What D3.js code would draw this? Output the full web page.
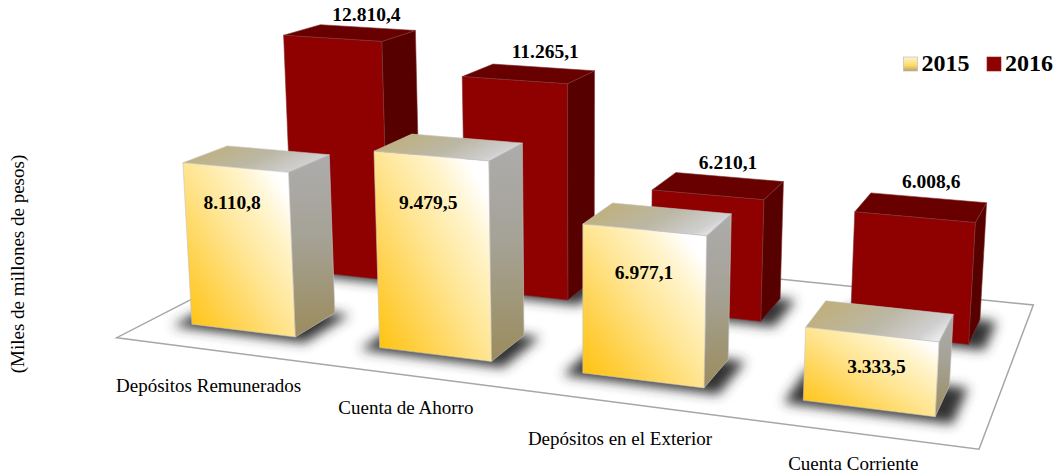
<!DOCTYPE html>
<html>
<head>
    <meta charset="utf-8">
    <title>Depósitos 2015-2016</title>
    <script src="https://d3js.org/d3.v7.min.js"></script>
    <style>
        body { margin: 0; background: #fff; }
        svg { display: block; }
        text { font-family: "Liberation Serif", "Times New Roman", serif; fill: #000; }
        .value { font-size: 19.5px; font-weight: bold; text-anchor: middle; }
        .category { font-size: 19px; text-anchor: middle; }
        .legend-label { font-size: 24px; font-weight: bold; }
    </style>
</head>
<body>
    <div id="chart"></div>
    <script>
        const categories = ["Depósitos Remunerados", "Cuenta de Ahorro", "Depósitos en el Exterior", "Cuenta Corriente"];
        const years = ["2015", "2016"];
        const values2015 = [8110.8, 9479.5, 6977.1, 3333.5];
        const values2016 = [12810.4, 11265.1, 6210.1, 6008.6];
        const labels2015 = ["8.110,8", "9.479,5", "6.977,1", "3.333,5"];
        const labels2016 = ["12.810,4", "11.265,1", "6.210,1", "6.008,6"];

        const width = 1055, height = 473;

        // floor quad on screen: front-left, front-right, back-right, back-left
        const floor = [[116.7, 337.7], [979, 449.3], [1033.3, 305], [322.1, 232.1]];
        // columns converge towards this point far below the picture
        const vanish = [582, 7300];

        const u = d3.scaleBand().domain(categories).range([0, 1]).paddingInner(0.44).paddingOuter(0.22);
        const w = d3.scaleBand().domain(years).range([0, 0.98]).paddingInner(0.6).paddingOuter(0.3);
        const h = d3.scaleLinear().domain([0, 14000]).range([0, -0.04]);

        // unit square -> floor quad
        const [[x0, y0], [x1, y1], [x2, y2], [x3, y3]] = floor;
        const sx = x0 - x1 + x2 - x3, sy = y0 - y1 + y2 - y3;
        const dx1 = x1 - x2, dx2 = x3 - x2, dy1 = y1 - y2, dy2 = y3 - y2;
        const den = dx1 * dy2 - dx2 * dy1;
        const g3 = (sx * dy2 - dx2 * sy) / den;
        const h3 = (dx1 * sy - sx * dy1) / den;
        const a = x1 - x0 + g3 * x1, b = x3 - x0 + h3 * x3;
        const d = y1 - y0 + g3 * y1, e = y3 - y0 + h3 * y3;

        // fu, fw in 0..1 on the floor, t is the height coming out of the h scale
        function project(fu, fw, t) {
            const k = g3 * fu + h3 * fw + 1 + (t || 0);
            return [
                (a * fu + b * fw + x0 + (t || 0) * vanish[0]) / k,
                (d * fu + e * fw + y0 + (t || 0) * vanish[1]) / k
            ];
        }

        const svg = d3.select("#chart").append("svg")
            .attr("width", width)
            .attr("height", height);

        const defs = svg.append("defs");

        function gradient(id, pos, stops) {
            const lg = defs.append("linearGradient").attr("id", id)
                .attr("x1", pos[0]).attr("y1", pos[1]).attr("x2", pos[2]).attr("y2", pos[3]);
            stops.forEach(s => lg.append("stop").attr("offset", s[0]).attr("stop-color", s[1]));
        }

        gradient("yFront", [0, 1, 1, 0], [[0, "#ffc000"], [0.22, "#ffcf42"], [0.5, "#ffe592"], [0.72, "#fff3c8"], [0.88, "#ffffff"], [1, "#ffffff"]]);
        gradient("ySide", [0, 0, 0, 1], [[0, "#acacac"], [0.45, "#a5a296"], [1, "#9b8c5c"]]);
        gradient("yTop", [0, 0.3, 1, 0.7], [[0, "#c0af78"], [0.5, "#bbb7a4"], [0.85, "#cfcfcf"], [1, "#ececec"]]);
        gradient("yLegend", [0, 0, 0, 1], [[0, "#fff4cc"], [0.6, "#ffd968"], [1, "#b7a468"]]);

        const blur = defs.append("filter").attr("id", "soft")
            .attr("x", "-40%").attr("y", "-60%").attr("width", "180%").attr("height", "220%");
        blur.append("feGaussianBlur").attr("stdDeviation", 6);

        const poly = d3.line();
        const quad = pts => poly(pts) + "Z";

        // Floor
        svg.append("path")
            .attr("d", quad(floor))
            .attr("fill", "#fff")
            .attr("stroke", "#a6a6a6")
            .attr("stroke-width", 1.5);

        const series = [
            {year: "2016", values: values2016, labels: labels2016, front: "#8f0000", side: "#560000", top: "#680000", edge: "#7c3232"},
            {year: "2015", values: values2015, labels: labels2015, front: "url(#yFront)", side: "url(#ySide)", top: "url(#yTop)", edge: "#c4c4c4"}
        ];

        series.forEach(s => {
            const g = svg.append("g").attr("class", "series-" + s.year);
            const w0 = w(s.year), w1 = w0 + w.bandwidth();

            // shadows sit on the floor, under all of this year's columns
            g.selectAll(".shadow")
                .data(categories)
                .join("path")
                .attr("class", "shadow")
                .attr("d", c => {
                    const u0 = u(c) - 0.018, u1 = u(c) + u.bandwidth() + 0.02;
                    return quad([project(u0, w0 - 0.028), project(u1, w0 - 0.028), project(u1, w1), project(u0, w1)]);
                })
                .attr("fill", "#333")
                .attr("filter", "url(#soft)");

            const bars = g.selectAll(".bar")
                .data(categories)
                .join("g")
                .attr("class", "bar");

            const faces = [
                {fill: s.side, pts: (u0, u1, t) => [project(u1, w0), project(u1, w1), project(u1, w1, t), project(u1, w0, t)]},
                {fill: s.top, pts: (u0, u1, t) => [project(u0, w0, t), project(u1, w0, t), project(u1, w1, t), project(u0, w1, t)]},
                {fill: s.front, pts: (u0, u1, t) => [project(u0, w0), project(u1, w0), project(u1, w0, t), project(u0, w0, t)]}
            ];

            faces.forEach(f => {
                bars.append("path")
                    .attr("d", (c, i) => quad(f.pts(u(c), u(c) + u.bandwidth(), h(s.values[i]))))
                    .attr("fill", f.fill)
                    .attr("stroke", s.edge)
                    .attr("stroke-width", 0.6)
                    .attr("stroke-linejoin", "round");
            });
        });

        // Value labels: 2016 above the top face, 2015 on the front face
        const nudge2015 = [[-3, 41], [-2.5, 53], [0, 49], [5, 38]];
        const nudge2016 = [[-1, -7], [2, -9], [-1, -8], [3, -10]];
        const categoryDy = [42, 39, 42, 37];

        svg.append("g").selectAll("text")
            .data(categories)
            .join("text")
            .attr("class", "value")
            .attr("transform", (c, i) => {
                const p = project(u(c) + u.bandwidth() * 0.5, w(years[0]), h(values2015[i]));
                return `translate(${p[0] + nudge2015[i][0]},${p[1] + nudge2015[i][1]})`;
            })
            .text((c, i) => labels2015[i]);

        svg.append("g").selectAll("text")
            .data(categories)
            .join("text")
            .attr("class", "value")
            .attr("transform", (c, i) => {
                const p = project(u(c) + u.bandwidth() * 0.5, w(years[1]) + w.bandwidth(), h(values2016[i]));
                return `translate(${p[0] + nudge2016[i][0]},${p[1] + nudge2016[i][1]})`;
            })
            .text((c, i) => labels2016[i]);

        // Category labels follow the front edge of the floor
        svg.append("g").selectAll("text")
            .data(categories)
            .join("text")
            .attr("class", "category")
            .attr("transform", (c, i) => {
                const p = project(u(c) + u.bandwidth() / 2, 0);
                return `translate(${p[0] - 1},${p[1] + categoryDy[i]})`;
            })
            .text(c => c);

        svg.append("text")
            .attr("class", "category")
            .attr("transform", "translate(24,264) rotate(-90)")
            .text("(Miles de millones de pesos)");

        // Legend
        const legend = svg.append("g").selectAll("g")
            .data(years)
            .join("g")
            .attr("transform", (y, i) => `translate(${903.5 + i * 83.5},57)`);

        legend.append("rect")
            .attr("width", 14)
            .attr("height", 14)
            .attr("fill", (y, i) => i === 0 ? "url(#yLegend)" : "#8f0000")
            .attr("stroke", (y, i) => i === 0 ? "#b5b5b5" : "#8f2020")
            .attr("stroke-width", 0.6);

        legend.append("text")
            .attr("class", "legend-label")
            .attr("x", 18)
            .attr("y", 14)
            .text(y => y);
    </script>
</body>
</html>
